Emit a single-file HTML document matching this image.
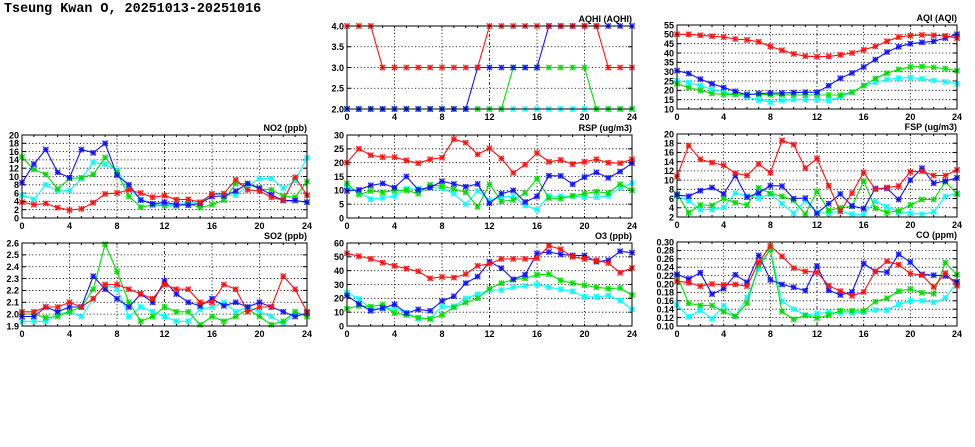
<!DOCTYPE html>
<html><head><meta charset="utf-8"><style>
body{margin:0;background:#fff;}
svg{display:block;font-family:"Liberation Sans",sans-serif;}
</style></head><body>
<svg id="chart" width="975" height="447" viewBox="0 0 975 447" xmlns="http://www.w3.org/2000/svg">
<rect width="975" height="447" fill="#fff"/>
<text x="4" y="12" font-family="Liberation Mono, monospace" font-weight="bold" font-size="13.4" fill="#000">Tseung Kwan O, 20251013-20251016</text>
</svg>
<script>
const hours = [0,1,2,3,4,5,6,7,8,9,10,11,12,13,14,15,16,17,18,19,20,21,22,23,24];
const xTicks = [0,4,8,12,16,20,24];
const seriesColors = ["#00ffff","#00dd00","#1010ff","#ff1010"];

const aqhiCyan = [2,2,2,2,2,2,2,2,2,2,2,2,2,2,2,2,2,2,2,2,2,2,2,2,2];
const aqhiGreen = [2,2,2,2,2,2,2,2,2,2,2,2,2,2,3,3,3,3,3,3,3,2,2,2,2];
const aqhiBlue = [2,2,2,2,2,2,2,2,2,2,2,3,3,3,3,3,3,4,4,4,4,4,4,4,4];
const aqhiRed = [4,4,4,3,3,3,3,3,3,3,3,3,4,4,4,4,4,4,4,4,4,4,3,3,3];
const aqhiTicks = ["2.0","2.5","3.0","3.5","4.0"];

const aqiCyan = [25.2,24.2,22.5,20.5,19.2,18,16.5,14.8,13.8,14.5,15,15,15,14.7,16.5,19,22.5,24.2,25.8,26.5,26.8,26.2,25.3,24.5,23.5];
const aqiGreen = [23.5,21.5,20,18.3,17.8,17.8,18,17.8,17.7,17.6,17.5,17.5,17.5,17.5,17.5,19,22.5,26.3,29.2,31.2,32.5,32.8,32.3,31.7,30.5];
const aqiBlue = [30.5,29,26,23.5,21.5,19.5,17.5,18.3,18.5,18.5,18.8,19,19,22.5,26.5,29.3,32.5,36.5,40.5,43.3,45,45.7,46.3,48,50];
const aqiRed = [50,50,49.5,49,48.5,47.5,47,46,43.5,41.5,39.5,38.3,38,38.2,39,40,41.7,43.5,46.3,48.5,49.3,49.7,49.5,49.2,48];
const aqiTicks = ["10","15","20","25","30","35","40","45","50","55"];

const no2Cyan = [5.5,4.5,8,6.5,6.6,9.5,13.4,13,11.5,7,4.5,3.4,3.3,3.3,3.8,3.5,5.8,5.5,5.5,7.7,9.5,9.5,7.2,9,14.5];
const no2Green = [14.7,11.7,10.5,7,9.5,9.7,10.5,14.6,11,5.2,2.6,3.1,3,2.9,3.5,2.5,3.2,4.3,8.3,8.3,7,6.8,5.3,5,8.8];
const no2Blue = [8.5,13,16.5,11,9.7,16.5,15.7,18,10.3,8,4.3,3.4,3.8,3.2,3.1,3.5,5.2,5.3,6.5,8.3,7.2,5.6,4.2,4.2,3.8];
const no2Red = [3.8,3.2,3.5,2.5,1.9,2.2,3.7,5.8,6,6.8,6,5,5.4,4.4,4.5,3.8,5.8,5.9,9.2,6.8,6.5,5,4.3,9.8,5.5];
const no2Ticks = ["0","2","4","6","8","10","12","14","16","18","20"];

const rspCyan = [11.2,9.3,6.8,7.3,8,10.5,10.5,11,10.8,8.8,5,9.8,6.5,7.5,8,4.5,3,8,7.8,8,7.5,7.5,8,11,12.6];
const rspGreen = [12.5,8.5,9.8,9.3,10,10,8.8,12,11.5,10.5,9.3,4,12.2,6,6.5,9,14.2,7.2,7,8,8.8,9.5,9,12.2,10];
const rspBlue = [9.8,10.2,11.8,12.5,11,15,10.2,11,13.3,12.3,11.3,12.3,5.3,8.8,10,5.8,7.8,15.3,15.2,12.2,14.8,16.5,14.5,16.8,19.8];
const rspRed = [20,25,22.7,22,22,20.8,19.8,21.2,21.8,28.5,27.2,23,25.2,21.5,16.3,19.3,23.5,20.3,21,19.5,20.3,21.2,20,19.8,21.2];
const rspTicks = ["0","5","10","15","20","25","30"];

const fspCyan = [6.6,5.5,3.6,3.6,4.1,7.2,6.6,6.1,7,4.9,2.8,5.5,3,2.8,3.3,2.6,2.6,5.4,4.2,3.1,2.8,2.6,3.1,6.5,7.1];
const fspGreen = [7,2.9,4.6,4.5,6,5.1,4.6,8.3,7.1,6.5,5.6,2.6,7.6,3.4,4,4.3,9.8,3.9,3,3.3,4.6,5.8,5.8,9.6,7];
const fspBlue = [6.8,6.5,7.7,8.4,7,11,6.3,7.2,8.8,8.7,6,6.1,2.8,4.9,7,4.4,3.8,8.2,8.2,5.8,10,12.6,9.3,9.8,10.5];
const fspRed = [10.8,17.5,14.5,13.8,13.2,11.5,11,13.5,11.6,18.6,17.7,12.6,14.7,8.8,3.2,7.2,11.7,8,8.4,8.7,11.8,11.9,11,11,12.2];
const fspTicks = ["2","4","6","8","10","12","14","16","18","20"];

const so2Cyan = [1.94,1.94,1.94,2.0,2.02,1.98,2.13,2.24,2.22,1.98,2.06,2.02,1.98,1.94,1.94,2.04,2.06,2.10,2.02,2.06,2.02,1.98,1.92,2.0,2.0];
const so2Green = [2.0,2.0,1.97,1.98,2.02,2.06,2.21,2.59,2.36,2.10,1.94,1.98,2.06,2.02,2.02,1.91,1.98,1.94,1.98,2.04,1.98,1.91,1.94,2.02,1.98];
const so2Blue = [1.98,1.98,2.06,2.02,2.06,2.06,2.32,2.21,2.13,2.06,2.17,2.10,2.28,2.17,2.10,2.07,2.13,2.07,2.10,2.06,2.10,2.06,2.02,1.98,2.01];
const so2Red = [2.02,2.02,2.06,2.06,2.10,2.06,2.13,2.25,2.25,2.21,2.17,2.13,2.25,2.21,2.21,2.10,2.10,2.25,2.21,2.02,2.06,2.06,2.32,2.21,2.02];
const so2Ticks = ["1.9","2.0","2.1","2.2","2.3","2.4","2.5","2.6"];

const o3Cyan = [24,19.5,12.5,12.5,13,9.5,5.5,5.5,14,14.2,20,23,26,26,28,29,30,28,26.5,25,21,21,22,18.5,12];
const o3Green = [12.5,14.5,14,15.5,9.3,8,6,5,8,13.5,17,20,27,31,33.5,34.5,37,37.5,33,31,29.5,28,27,27.5,22.5];
const o3Blue = [22,16,11,13,15.7,9.3,12,11,18,21.5,31,35.7,46.5,41.8,33.7,37,52.5,53.5,51.8,51,51,46.5,47.5,54,53];
const o3Red = [52.5,50.5,48.5,45.8,43.5,41.5,39.5,34.5,35.5,35,37.5,43.5,45,48.5,48.5,48.5,49,58,55.5,50,48.5,47.5,45.5,38.5,42];
const o3Ticks = ["0","10","20","30","40","50","60"];

const coCyan = [.150,.122,.138,.117,.148,.123,.168,.236,.283,.159,.140,.126,.130,.132,.131,.131,.133,.138,.138,.152,.160,.160,.156,.167,.205];
const coGreen = [.220,.154,.149,.149,.134,.123,.154,.244,.282,.134,.116,.125,.119,.126,.136,.136,.136,.158,.166,.183,.188,.179,.177,.251,.222];
const coBlue = [.223,.212,.227,.176,.189,.222,.204,.268,.210,.199,.192,.184,.243,.185,.174,.181,.249,.230,.228,.271,.252,.223,.221,.219,.205];
const coRed = [.207,.203,.195,.200,.198,.199,.195,.252,.291,.266,.238,.230,.228,.196,.183,.172,.181,.230,.254,.246,.225,.221,.193,.226,.196];
const coTicks = ["0.10","0.12","0.14","0.16","0.18","0.20","0.22","0.24","0.26","0.28","0.30"];

const NS = "http://www.w3.org/2000/svg";
const svg = document.getElementById("chart");
function mk(tag, attrs, parent){
  const e = document.createElementNS(NS, tag);
  for (const k in attrs) e.setAttribute(k, attrs[k]);
  (parent||svg).appendChild(e);
  return e;
}

function panel(key, title, box, ticks, series){
  const [L,T,R,B] = box;
  const g = mk("g", {});
  
  
  const yMin = parseFloat(ticks[0]), yMax = parseFloat(ticks[ticks.length-1]);
  const xs = v => L + (v - 0) / 24 * (R - L);
  const ys = v => B - (v - yMin) / (yMax - yMin) * (B - T);
  ticks.forEach((t,i) => {
    const y = ys(parseFloat(t));
    if (i>0 && i<ticks.length-1) {
      const gl = mk("line", {x1:L, x2:R, y1:y, y2:y, stroke:"#000", "stroke-width":0.8, "stroke-dasharray":"1.2,2.2"}, g);
      
      
    }
    mk("line", {x1:L, x2:L+4, y1:y, y2:y, stroke:"#000"}, g);
    mk("line", {x1:R-4, x2:R, y1:y, y2:y, stroke:"#000"}, g);
    const tl = mk("text", {x:L-3, y:y+3.3, "text-anchor":"end", "font-size":9, "font-weight":"bold"}, g);
    tl.textContent = t;
    
    
  });
  xTicks.forEach((t,i) => {
    const x = xs(t);
    if (i>0 && i<xTicks.length-1) {
      const gl = mk("line", {x1:x, x2:x, y1:T, y2:B, stroke:"#000", "stroke-width":0.8, "stroke-dasharray": t===12 ? "3,2,1,2" : "1.2,2.2"}, g);
      
      
    }
    const tl = mk("text", {x:x, y:B+11, "text-anchor":"middle", "font-size":9, "font-weight":"bold"}, g);
    tl.textContent = t;
    
    
  });
  hours.forEach(h => {
    const x = xs(h);
    mk("line", {x1:x, x2:x, y1:B, y2:B-2, stroke:"#000"}, g);
    mk("line", {x1:x, x2:x, y1:T, y2:T+2, stroke:"#000"}, g);
  });
  const names = ["cyan","green","blue","red"];
  series.forEach((vals, si) => {
    const c = seriesColors[si];
    const sg = mk("g", {}, g);
    
    
    const pts = vals.map((v,i) => xs(hours[i]).toFixed(1) + "," + ys(v).toFixed(1)).join(" ");
    mk("polyline", {points:pts, fill:"none", stroke:c, "stroke-width":1.1}, sg);
    vals.forEach((v,i) => {
      const x = xs(hours[i]), y = ys(v), s = 2.7;
      const m = mk("g", {}, sg);
      
      
      mk("rect", {x:x-s, y:y-s, width:2*s, height:2*s, fill:c, opacity:0.35}, m);
      mk("path", {d:`M${x-s} ${y-s}L${x+s} ${y+s}M${x-s} ${y+s}L${x+s} ${y-s}M${x-s} ${y}L${x+s} ${y}M${x} ${y-s}L${x} ${y+s}`, stroke:c, "stroke-width":1}, m);
    });
  });
  const fr = mk("rect", {x:L, y:T, width:R-L, height:B-T, fill:"none", stroke:"#000", "stroke-width":1}, g);
  
  
  const tt = mk("text", {x:R, y:T-4, "text-anchor":"end", "font-size":9, "font-weight":"bold"}, g);
  tt.textContent = title;
  
  
}

panel("aqhi","AQHI (AQHI)",[347,26,632,109],aqhiTicks,[aqhiCyan,aqhiGreen,aqhiBlue,aqhiRed]);
panel("aqi","AQI (AQI)",[677,25,957,109],aqiTicks,[aqiCyan,aqiGreen,aqiBlue,aqiRed]);
panel("no2","NO2 (ppb)",[22,135,307,218],no2Ticks,[no2Cyan,no2Green,no2Blue,no2Red]);
panel("rsp","RSP (ug/m3)",[347,135,632,218],rspTicks,[rspCyan,rspGreen,rspBlue,rspRed]);
panel("fsp","FSP (ug/m3)",[677,134,957,217],fspTicks,[fspCyan,fspGreen,fspBlue,fspRed]);
panel("so2","SO2 (ppb)",[22,243,307,326],so2Ticks,[so2Cyan,so2Green,so2Blue,so2Red]);
panel("o3","O3 (ppb)",[347,243,632,326],o3Ticks,[o3Cyan,o3Green,o3Blue,o3Red]);
panel("co","CO (ppm)",[677,242,957,326],coTicks,[coCyan,coGreen,coBlue,coRed]);
</script>
</body></html>
